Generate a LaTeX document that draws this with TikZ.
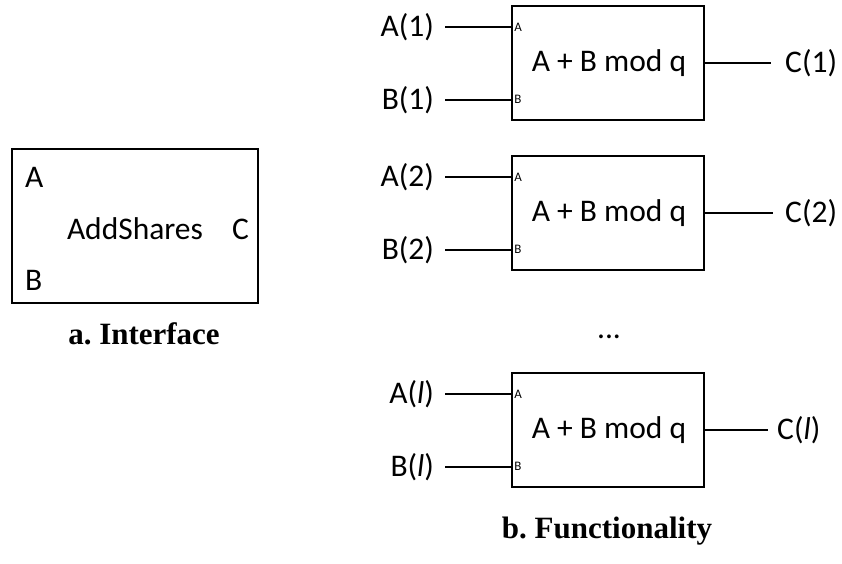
\documentclass[tikz,border=0pt]{standalone}
\usepackage{fontspec}
\setmainfont{Carlito}
\newfontfamily\capfont{Liberation Serif}
\usetikzlibrary{positioning}
\frenchspacing

\tikzset{
  blk/.style={draw, line width=1.6pt, minimum width=192pt, minimum height=114pt, inner sep=0pt},
  lbl/.style={font=\fontsize{31.5}{36}\selectfont, inner sep=0pt},
  tiny/.style={font=\fontsize{13}{15}\selectfont, inner sep=0pt},
  captxt/.style={font=\capfont\bfseries\fontsize{31}{36}\selectfont, inner sep=0pt},
  wire/.style={line width=1.6pt}
}

\begin{document}
\begin{tikzpicture}[x=1pt,y=-1pt]
  \useasboundingbox (0,0) rectangle (842,564);

  % interface
  \node[blk, minimum width=246pt, minimum height=154pt] (ifc) at (135,226) {};
  \node[lbl, anchor=west] (ia) at (25,177) {A};
  \node[lbl, anchor=west] (ib) at (25,280) {B};
  \node[lbl] (iname) at (135,229) {AddShares};
  \node[lbl, anchor=west] (ic) at (232,229) {C};
  \node[captxt] (capa) at (144,334) {a. Interface};

  % functionality
  \foreach \i/\yc/\lab/\cx/\tx in {1/63/1/771/785, 2/213/2/773/785, 3/430/{\textit{l}}/768/777} {
    \node[blk] (fn\i) at (608,\yc) {};
    \node[lbl] (op\i) at (609,\yc) {A + B mod q};
    \coordinate (pa\i) at ([yshift=-22pt]fn\i.north west);
    \coordinate (pb\i) at ([yshift=21pt]fn\i.south west);
    \node[tiny, anchor=west] (sa\i) at ([xshift=3pt]pa\i) {A};
    \node[tiny, anchor=west] (sb\i) at ([xshift=3pt]pb\i) {B};
    \coordinate (ea\i) at ([xshift=-66pt]pa\i);
    \coordinate (eb\i) at ([xshift=-66pt]pb\i);
    \node[lbl, anchor=east] (la\i) at ([xshift=-11pt]ea\i) {A(\lab)};
    \node[lbl, anchor=east] (lb\i) at ([xshift=-11pt]eb\i) {B(\lab)};
    \draw[wire] (ea\i) -- (pa\i);
    \draw[wire] (eb\i) -- (pb\i);
    \coordinate (ec\i) at (\cx,\yc);
    \node[lbl, anchor=west] (lc\i) at (\tx,\yc) {C(\lab)};
    \draw[wire] (fn\i.east) -- (ec\i);
  }
  \node[lbl] (dots) at (609,337) {...};
  \node[captxt] (capb) at (607,531) {b. Functionality};
\end{tikzpicture}
\end{document}
